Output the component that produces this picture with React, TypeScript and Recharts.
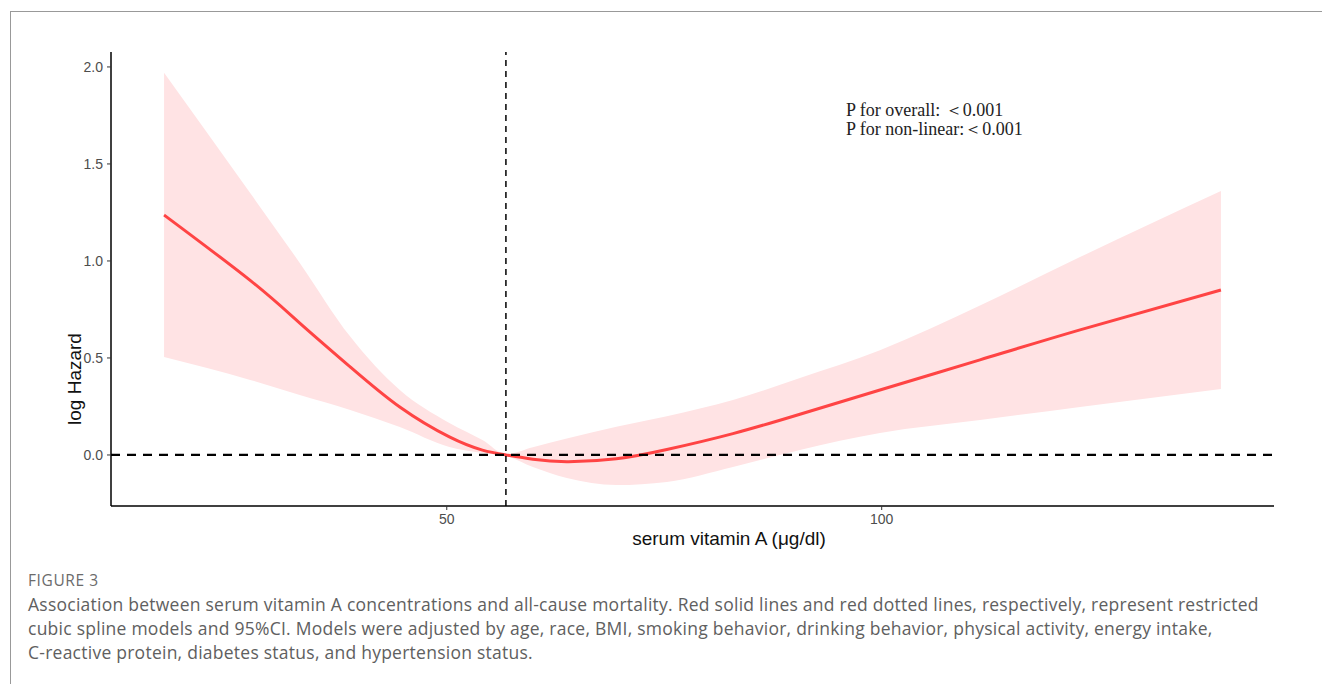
import { Area, ComposedChart, Line, ReferenceLine, XAxis, YAxis } from "recharts"

// serum vitamin A (µg/dl) and the fitted log hazard with its 95% CI
const vitA = [17.5, 27.4, 33.1, 38.9, 44.6, 50.3, 54.1, 56.8, 59.9, 63.8, 69.5, 75.3, 82.9, 90.6, 99.8, 111.3, 122.8, 139.0]
const fit = [1.237, 0.9, 0.68, 0.454, 0.247, 0.093, 0.025, 0.0, -0.022, -0.035, -0.02, 0.028, 0.11, 0.21, 0.335, 0.49, 0.645, 0.85]
const upper = [1.97, 1.35, 0.99, 0.61, 0.335, 0.165, 0.077, 0.005, 0.04, 0.085, 0.145, 0.2, 0.283, 0.397, 0.54, 0.77, 1.02, 1.36]
const lower = [0.505, 0.387, 0.309, 0.232, 0.144, 0.041, 0.01, -0.005, -0.062, -0.119, -0.155, -0.139, -0.062, 0.026, 0.113, 0.18, 0.247, 0.34]

const xTicks = [50, 100]
const yTicks = [0, 0.5, 1, 1.5, 2]
const knot = 56.8

const pLines = ["P for overall: ＜0.001", "P for non-linear:＜0.001"]
const captionLines = [
  "Association between serum vitamin A concentrations and all-cause mortality. Red solid lines and red dotted lines, respectively, represent restricted",
  "cubic spline models and 95%CI. Models were adjusted by age, race, BMI, smoking behavior, drinking behavior, physical activity, energy intake,",
  "C-reactive protein, diabetes status, and hypertension status.",
]

const data = vitA.map((x, i) => ({ x, fit: fit[i], ci: [lower[i], upper[i]] }))

const tickStyle = { fontSize: 14, fill: "#4d4d4d", fontFamily: "Liberation Sans, Arial, sans-serif" }

export default function App() {
  return (
    <div style={{ position: "absolute", left: 0, top: 0, width: 1322, height: 684, background: "#fff", overflow: "hidden" }}>
      {/* figure frame */}
      <div style={{ position: "absolute", left: 10, top: 11, width: 1312, height: 1, background: "#999" }} />
      <div style={{ position: "absolute", left: 10, top: 11, width: 1, height: 673, background: "#999" }} />

      <div style={{ position: "absolute", left: 0, top: 0 }}>
        <ComposedChart width={1322} height={560} data={data} margin={{ top: 52, right: 48, left: 0, bottom: 0 }}>
          <XAxis
            type="number"
            dataKey="x"
            domain={[11.4, 145.1]}
            allowDataOverflow
            ticks={xTicks}
            tick={tickStyle}
            tickSize={4}
            tickMargin={4}
            height={54}
            axisLine={{ stroke: "#000", strokeWidth: 1.5 }}
            tickLine={{ stroke: "#333" }}
          />
          <YAxis
            type="number"
            domain={[-0.263, 2.077]}
            allowDataOverflow
            ticks={yTicks}
            tickFormatter={(v: number) => v.toFixed(1)}
            tick={tickStyle}
            tickSize={4}
            tickMargin={4}
            width={111}
            axisLine={{ stroke: "#000", strokeWidth: 1.5 }}
            tickLine={{ stroke: "#333" }}
          />
          <Area dataKey="ci" type="monotone" fill="#ffe3e4" fillOpacity={1} stroke="none" isAnimationActive={false} />
          <Line dataKey="fit" type="natural" stroke="#ff4444" strokeWidth={3} dot={false} isAnimationActive={false} />
          <ReferenceLine y={0} stroke="#000" strokeWidth={2.2} strokeDasharray="9 7" />
          <ReferenceLine x={knot} stroke="#000" strokeWidth={1.5} strokeDasharray="6 5" />
        </ComposedChart>
      </div>

      {/* axis titles and annotation */}
      <svg width={1322} height={560} style={{ position: "absolute", left: 0, top: 0, pointerEvents: "none" }}>
        <text x={729} y={545} textAnchor="middle" fontSize={19} fill="#111" fontFamily="Liberation Sans, Arial, sans-serif">
          serum vitamin A (μg/dl)
        </text>
        <text
          x={81}
          y={379}
          textAnchor="middle"
          fontSize={19}
          fill="#111"
          fontFamily="Liberation Sans, Arial, sans-serif"
          transform="rotate(-90 81 379)"
        >
          log Hazard
        </text>
        {pLines.map((t, i) => (
          <text key={t} x={846} y={116 + i * 19} fontSize={18} fill="#222" fontFamily="Liberation Serif, Times New Roman, serif">
            {t}
          </text>
        ))}
      </svg>

      {/* caption */}
      <div
        style={{
          position: "absolute",
          left: 28,
          top: 569,
          fontFamily: "Open Sans, sans-serif",
          fontSize: 15.5,
          color: "#6b6b6b",
          letterSpacing: 0.6,
        }}
      >
        FIGURE 3
      </div>
      {captionLines.map((t, i) => (
        <div
          key={i}
          style={{
            position: "absolute",
            left: 28,
            top: 592 + i * 24,
            fontFamily: "Open Sans, sans-serif",
            fontSize: 17.5,
            letterSpacing: 0.25,
            color: "#606060",
            whiteSpace: "nowrap",
            lineHeight: "24px",
          }}
        >
          {t}
        </div>
      ))}
    </div>
  )
}
